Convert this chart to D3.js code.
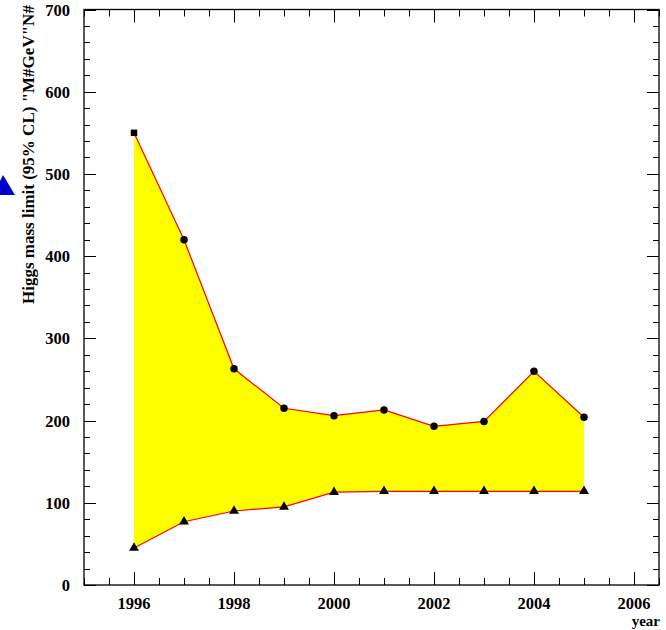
<!DOCTYPE html>
<html><head><meta charset="utf-8">
<script src="https://cdn.jsdelivr.net/npm/d3@7"></script>
<style>body{margin:0;background:#fff}svg{display:block}</style>
</head><body>
<svg id="c" width="666" height="630"></svg>
<script>
const years = [1996,1997,1998,1999,2000,2001,2002,2003,2004,2005];
const upperLimit = [550,420,263,215,206,213,193,199,260,204];
const lowerLimit = [45,77,90,95,113,114,114,114,114,114];
const xTickLabels = [1996,1998,2000,2002,2004,2006];
const yTickLabels = [0,100,200,300,400,500,600,700];
const yTitle = 'Higgs mass limit (95% CL) "M#GeV"N#';
const xTitle = 'year';

const svg = d3.select("#c");
const L=84, R=659, T=9.5, B=585;
const x = d3.scaleLinear().domain([1995,2006.5]).range([L,R]);
const y = d3.scaleLinear().domain([0,700]).range([B,T]);
const font = "'Liberation Serif','Times New Roman',serif";

const pts = years.map((yr,i)=>({yr,u:upperLimit[i],l:lowerLimit[i]}));
svg.append("path").datum(pts)
  .attr("d", d3.area().x(d=>x(d.yr)).y0(d=>y(d.l)).y1(d=>y(d.u)))
  .attr("fill","#ffff00");
svg.append("path").datum(pts).attr("d", d3.line().x(d=>x(d.yr)).y(d=>y(d.u)))
  .attr("fill","none").attr("stroke","#ff0000").attr("stroke-width",1.2);
svg.append("path").datum(pts).attr("d", d3.line().x(d=>x(d.yr)).y(d=>y(d.l)))
  .attr("fill","none").attr("stroke","#ff0000").attr("stroke-width",1.2);

// frame
svg.append("rect").attr("x",L).attr("y",T).attr("width",R-L).attr("height",B-T)
  .attr("fill","none").attr("stroke","#000").attr("stroke-width",1.3);

// ticks
const g = svg.append("g").attr("stroke","#000").attr("stroke-width",1);
d3.range(1995,2006.51,0.5).forEach(v=>{
  const major = Math.abs(v%2)===0;
  const len = major?13:7;
  const xx = Math.round(x(v))+0.5;
  g.append("line").attr("x1",xx).attr("x2",xx).attr("y1",B).attr("y2",B-len);
  g.append("line").attr("x1",xx).attr("x2",xx).attr("y1",T).attr("y2",T+len);
});
d3.range(0,701,20).forEach(v=>{
  const major = v%100===0;
  const len = major?12:6;
  const yy = Math.round(y(v))+0.5;
  g.append("line").attr("x1",L).attr("x2",L+len).attr("y1",yy).attr("y2",yy);
  g.append("line").attr("x1",R).attr("x2",R-len).attr("y1",yy).attr("y2",yy);
});

// tick labels
svg.selectAll(".xl").data(xTickLabels).enter().append("text")
  .attr("x",d=>x(d)).attr("y",609).attr("text-anchor","middle")
  .attr("font-family",font).attr("font-weight","bold").attr("font-size",16.5).text(d=>d);
svg.selectAll(".yl").data(yTickLabels).enter().append("text")
  .attr("x",70).attr("y",d=>y(d)+6).attr("text-anchor","end")
  .attr("font-family",font).attr("font-weight","bold").attr("font-size",16.5).text(d=>d);

// titles
svg.append("text").attr("transform","translate(34,304) rotate(-90)")
  .attr("font-family",font).attr("font-weight","bold").attr("font-size",17).text(yTitle);
svg.append("text").attr("x",660).attr("y",626).attr("text-anchor","end")
  .attr("font-family",font).attr("font-weight","bold").attr("font-size",15).text(xTitle);

// markers
svg.selectAll(".um").data(pts).enter().append("path")
  .attr("transform",d=>`translate(${x(d.yr)},${y(d.u)})`)
  .attr("d",(d,i)=>d3.symbol().type(i===0?d3.symbolSquare:d3.symbolCircle).size(i===0?42:44)())
  .attr("fill","#000");
svg.selectAll(".lm").data(pts).enter().append("path")
  .attr("transform",d=>`translate(${x(d.yr)},${y(d.l)})`)
  .attr("d",d3.symbol().type(d3.symbolTriangle).size(42)())
  .attr("fill","#000");

// blue arrow tip at left edge
svg.append("polygon").attr("points","3,175 15,195 0,195 0,181").attr("fill","#0000cc");
</script>
</body></html>
